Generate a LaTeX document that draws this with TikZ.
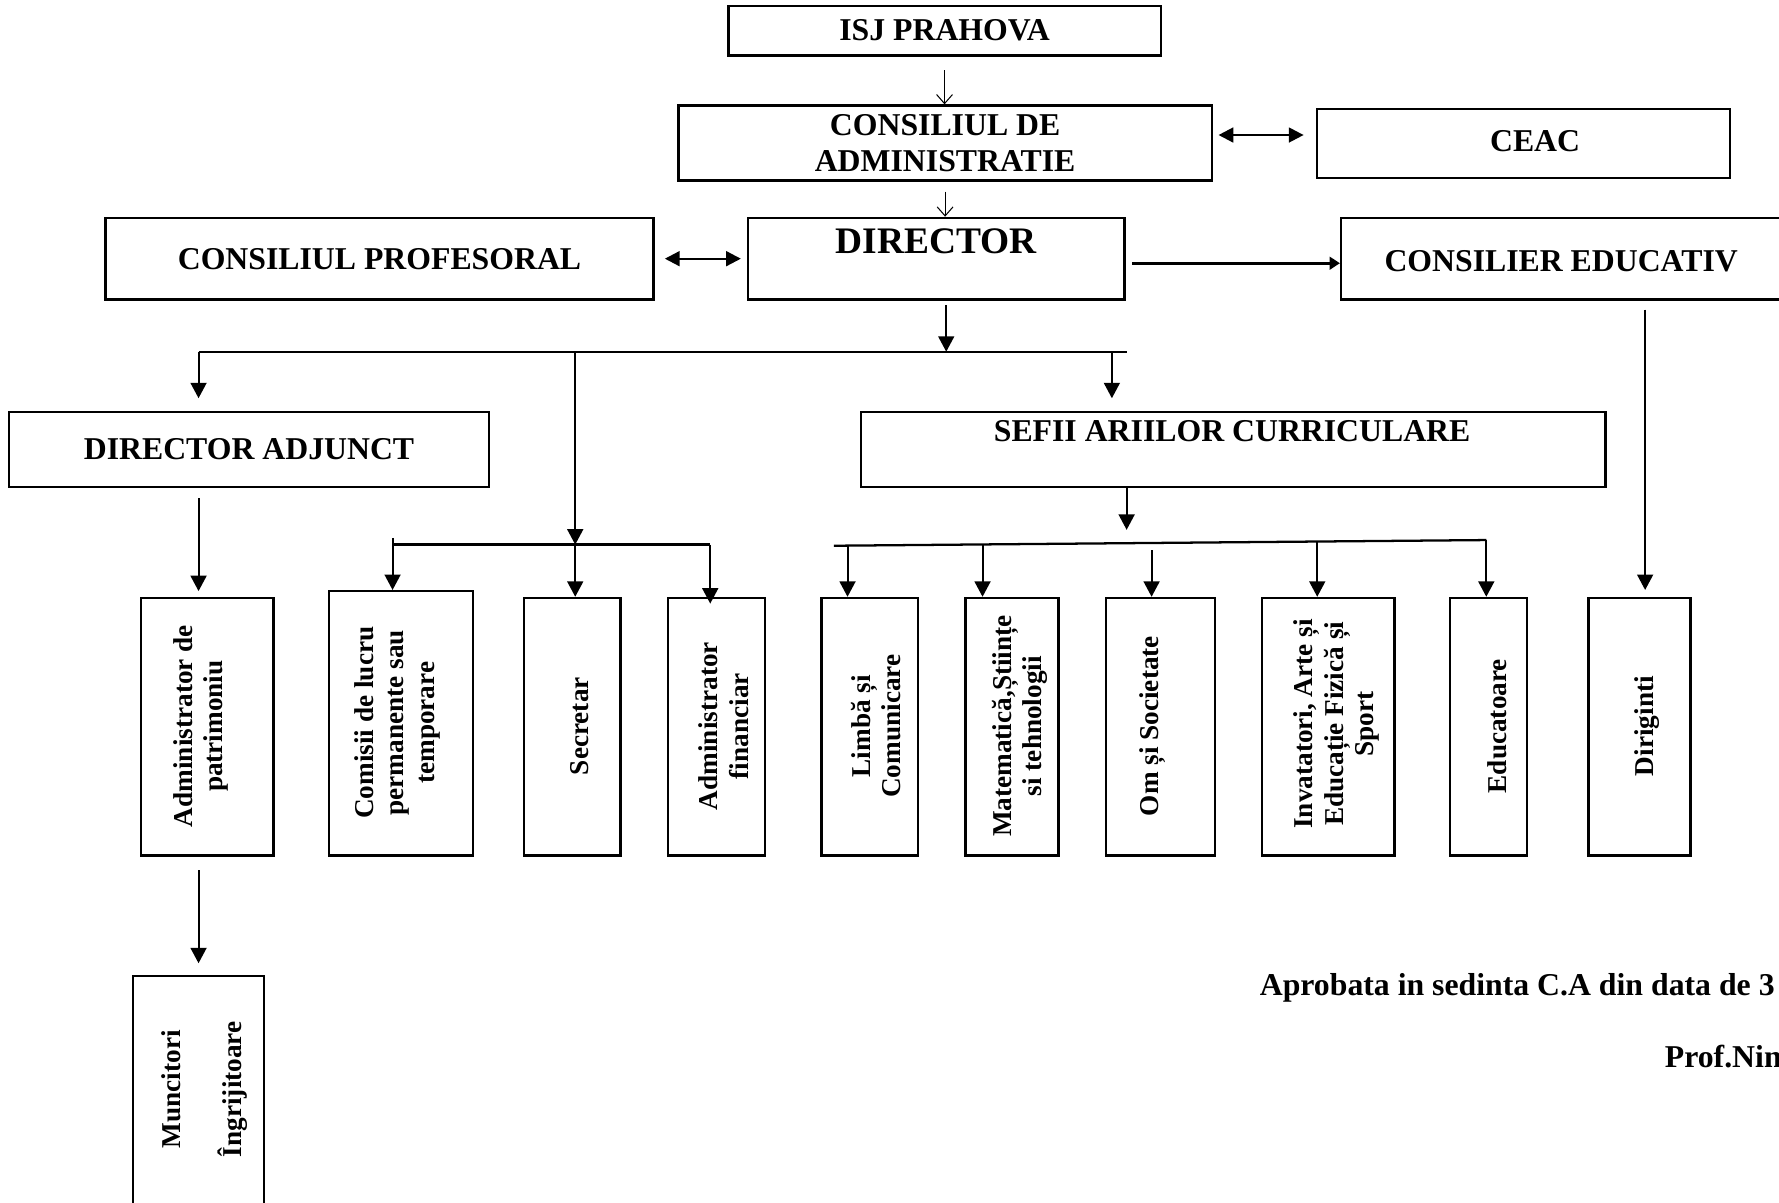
\documentclass[tikz,border=0pt]{standalone}
\usepackage{fontspec}
\setmainfont{Liberation Serif}
\usetikzlibrary{arrows.meta}
\begin{document}
\begin{tikzpicture}[x=0.5pt,y=-0.5pt,
  box/.style={draw, line width=1pt, inner sep=0pt, align=center, font=\bfseries\fontsize{14}{16}\selectfont},
  txt/.style={inner sep=0pt, align=center, font=\bfseries\fontsize{14}{16}\selectfont},
  vbox/.style={draw, line width=1pt, inner sep=0pt, minimum height=113.5pt},
  vtext/.style={rotate=90, inner sep=0pt, align=center, font=\bfseries\fontsize{12}{13.5}\selectfont},
  arr/.style={line width=0.9pt, -{Triangle[length=6.8pt,width=7pt]}},
  thinarr/.style={line width=0.45pt, -{Straight Barb[length=4pt,width=7pt]}},
  darr/.style={line width=1pt, {Triangle[length=6.5pt,width=6.5pt]}-{Triangle[length=6.5pt,width=6.5pt]}},
  bus/.style={line width=1pt}]
\useasboundingbox (0,0) rectangle (1568,1060);
\clip (0,0) rectangle (1568,1060);

% upper boxes
\node[box, minimum width=190.5pt, minimum height=22pt] (isj) at (832.5,27) {ISJ PRAHOVA};
\node[box, minimum width=235pt, minimum height=33pt] (ca) at (833,126) {CONSILIUL DE\\ADMINISTRATIE};
\node[box, minimum width=182pt, minimum height=30.5pt] (ceac) at (1343,126.5) {};
\node[txt] (ceact) at (1353,124) {CEAC};
\node[box, minimum width=241.5pt, minimum height=36pt] (cp) at (334.5,228) {CONSILIUL PROFESORAL};
\node[box, minimum width=166pt, minimum height=36pt] (dir) at (825,228) {};
\node[txt, font=\bfseries\fontsize{16.5}{18}\selectfont] (dirt) at (825,213) {DIRECTOR};
\node[box, minimum width=196.5pt, minimum height=36pt] (ce) at (1378.5,228) {};
\node[txt] (cet) at (1376,230) {CONSILIER EDUCATIV};
\node[box, minimum width=211.5pt, minimum height=33pt] (da) at (219.5,396) {DIRECTOR ADJUNCT};
\node[box, minimum width=328pt, minimum height=33pt] (sef) at (1087,396) {};
\node[txt] (seft) at (1086,380) {SEFII ARIILOR CURRICULARE};

% lower boxes
\node[vbox, minimum width=58.5pt] (ap) at (182.5,640.5) {};
\node[vtext] (apt) at (177,640) {Administrator de\\patrimoniu};
\node[vbox, minimum width=63.5pt, minimum height=116.5pt] (com) at (353.5,637.5) {};
\node[vtext] (comt) at (350,637) {Comisii de lucru\\permanente sau\\temporare};
\node[vbox, minimum width=42.5pt] (sec) at (504.5,640.5) {};
\node[vtext] (sect) at (511,640) {Secretar};
\node[vbox, minimum width=42.5pt] (af) at (631.5,640.5) {};
\node[vtext] (aft) at (638,640) {Administrator\\financiar};
\node[vbox, minimum width=42.5pt] (lc) at (766.5,640.5) {};
\node[vtext] (lct) at (772,640) {Limbă și\\Comunicare};
\node[vbox, minimum width=41pt] (mat) at (892,640.5) {};
\node[vtext] (matt) at (899,640) {Matematică,Științe\\si tehnologii};
\node[vbox, minimum width=48pt] (os) at (1023,640.5) {};
\node[vtext] (ost) at (1016,640) {Om și Societate};
\node[vbox, minimum width=58.5pt] (inv) at (1170.5,640.5) {};
\node[vtext] (invt) at (1178,638) {Invatatori, Arte și\\Educație Fizică și\\Sport};
\node[vbox, minimum width=34pt] (edu) at (1312,640.5) {};
\node[vtext] (edut) at (1320,640) {Educatoare};
\node[vbox, minimum width=45pt] (dg) at (1445,640.5) {};
\node[vtext] (dgt) at (1452,640) {Diriginti};
\node[vbox, minimum width=58pt, minimum height=120pt] (mun) at (175,980) {};
\node[vtext] (munt) at (180,960) {Muncitori\\[13.5pt]Îngrijitoare};

% helper coordinates
\coordinate (yca) at (0,119);
\coordinate (ydc) at (0,232);
\coordinate (bus1) at (834,310);
\coordinate (busL) at (175,310);
\coordinate (busR) at (993,310);
\coordinate (bS) at (980,310);
\coordinate (bSec) at (507,310);
\coordinate (cbus) at (507,480);
\coordinate (cbL) at (346,480);
\coordinate (cbR) at (626,480);
\coordinate (ssb) at (993,478);
\coordinate (sbL) at (735,481);
\coordinate (sbR) at (1310,476);
\coordinate (d1) at (747,481);
\coordinate (d2) at (866,480);
\coordinate (d3) at (1015,479);
\coordinate (d4) at (1161,477);
\coordinate (d5) at (1310,476);
\coordinate (xa) at (175,0);
\coordinate (xd) at (1450,0);

% connectors
\draw[thinarr, shorten <=6pt] (isj.south) -- (isj.south |- ca.north);
\draw[thinarr, shorten <=4.5pt] (ca.south) -- (ca.south |- dir.north);
\draw[darr, shorten <=2.5pt, shorten >=5.5pt] (ca.east |- yca) -- (ceac.west |- yca);
\draw[darr, shorten <=4.5pt, shorten >=2.5pt] (cp.east) -- (dir.west);
\draw[line width=1.3pt, -{Triangle[length=4.5pt,width=5.5pt]}, shorten <=3pt] (dir.east |- ydc) -- (ce.west |- ydc);
\draw[arr, shorten <=2pt] (dir.south -| bus1) -- (bus1);
\draw[bus] (busL) -- (busR);
\draw[arr, shorten >=5.5pt] (busL) -- (busL |- da.north);
\draw[arr, shorten >=5.5pt] (bS) -- (bS |- sef.north);
\draw[arr] (bSec) -- (cbus);
\draw[arr] (cbus) -- (cbus |- sec.north);
\draw[bus] (cbL) -- (cbR);
\draw[arr] ([yshift=3pt]cbL) -- (cbL |- com.north);
\draw[arr] (cbR) -- ([yshift=-3pt]cbR |- af.north);
\draw[arr, shorten <=4.5pt, shorten >=2.5pt] (da.south -| xa) -- (ap.north -| xa);
\draw[arr, shorten >=5.5pt] (sef.south -| ssb) -- (ssb);
\draw[bus] (sbL) -- (sbR);
\draw[arr] (d1) -- (d1 |- lc.north);
\draw[arr] (d2) -- (d2 |- mat.north);
\draw[arr] ([yshift=-3pt]d3) -- (d3 |- os.north);
\draw[arr] (d4) -- (d4 |- inv.north);
\draw[arr] (d5) -- (d5 |- edu.north);
\draw[arr, shorten <=4pt, shorten >=3pt] (ce.south -| xd) -- (dg.north -| xd);
\draw[arr, shorten <=6pt, shorten >=5pt] (ap.south -| xa) -- (mun.north -| xa);

% notes
\node[txt, anchor=base west] (apr) at (1110,877) {Aprobata in sedinta C.A din data de 3};
\node[txt, anchor=base west] (prof) at (1467,941) {Prof.Nin};
\end{tikzpicture}
\end{document}
